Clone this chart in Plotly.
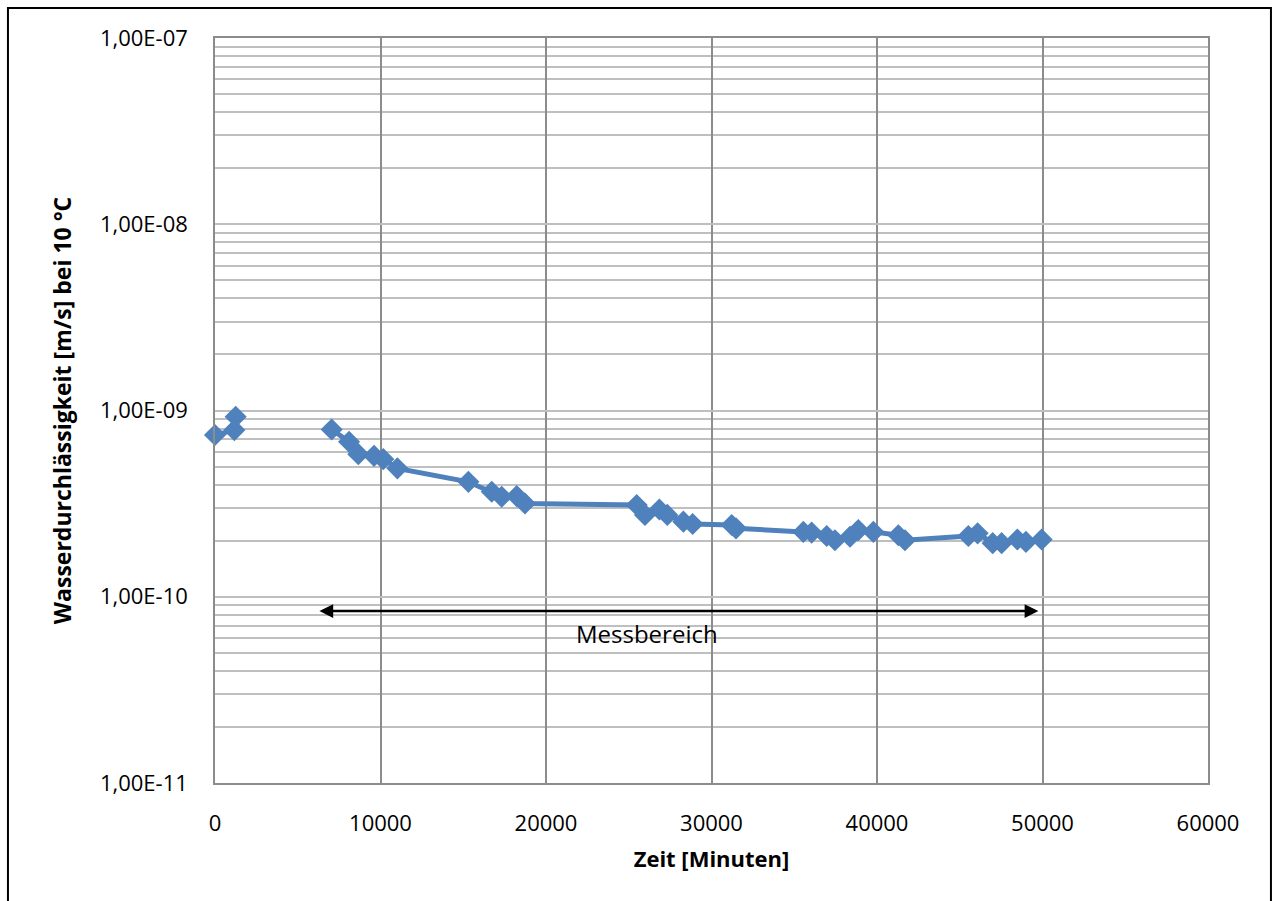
import math
import plotly.graph_objects as go

# Data (time in minutes, permeability in m/s)
zeit_minuten = [0, 1170, 1250, None,
                7050, 8100, 8660, 9610, 10170, 11020, 15310, 16720, 17320, 18230, 18730,
                25480, 25980, 26850, 27330, 28300, 28860, 31220, 31480,
                35550, 36050, 36960, 37460, 38370, 38870, 39780, 41290, 41690,
                45520, 46080, 46990, 47530, 48480, 49000, 49950]
durchlaessigkeit = [7.38e-10, 7.85e-10, 9.25e-10, None,
                    7.91e-10, 6.79e-10, 5.83e-10, 5.71e-10, 5.48e-10, 4.89e-10, 4.14e-10, 3.66e-10, 3.44e-10, 3.47e-10, 3.17e-10,
                    3.11e-10, 2.75e-10, 2.94e-10, 2.75e-10, 2.53e-10, 2.46e-10, 2.43e-10, 2.33e-10,
                    2.23e-10, 2.21e-10, 2.12e-10, 2.01e-10, 2.10e-10, 2.28e-10, 2.23e-10, 2.14e-10, 2.01e-10,
                    2.12e-10, 2.19e-10, 1.94e-10, 1.94e-10, 2.03e-10, 1.97e-10, 2.03e-10]

y_tick_vals = [1e-11, 1e-10, 1e-9, 1e-8, 1e-7]
y_tick_text = ["1,00E-11", "1,00E-10", "1,00E-09", "1,00E-08", "1,00E-07"]
x_tick_vals = [0, 10000, 20000, 30000, 40000, 50000, 60000]
x_tick_text = ["0", "10000", "20000", "30000", "40000", "50000", "60000"]

messbereich_start = 6220
messbereich_end = 49750
messbereich_y = 8.38e-11
messbereich_label = "Messbereich"
messbereich_label_x = 26100
messbereich_label_y = 6.38e-11

FONT = "Open Sans"

fig = go.Figure()
fig.add_trace(go.Scatter(
    x=zeit_minuten, y=durchlaessigkeit,
    mode="lines+markers",
    connectgaps=False,
    cliponaxis=False,
    line=dict(color="#4F81BD", width=5),
    marker=dict(symbol="diamond", size=17, color="#4F81BD"),
    showlegend=False,
))

fig.add_annotation(
    x=messbereich_end, y=math.log10(messbereich_y),
    ax=messbereich_start, ay=math.log10(messbereich_y),
    xref="x", yref="y", axref="x", ayref="y",
    text="", showarrow=True, arrowside="end+start",
    arrowhead=2, arrowsize=1.1, arrowwidth=2.5, arrowcolor="black",
)
fig.add_annotation(
    x=messbereich_label_x, y=math.log10(messbereich_label_y),
    xref="x", yref="y", text=messbereich_label, showarrow=False,
    font=dict(family=FONT, size=24, color="black"),
)

# outer chart frame
fig.add_shape(type="rect", xref="paper", yref="paper",
              x0=-0.2085, x1=1.0634, y0=-0.17, y1=1.0403,
              line=dict(color="black", width=2), layer="below")

fig.update_layout(
    width=1274, height=901,
    margin=dict(l=215, r=66, t=38, b=118),
    paper_bgcolor="white", plot_bgcolor="white",
    font=dict(family=FONT, size=22, color="black"),
)
fig.update_xaxes(
    range=[0, 60000], tickvals=x_tick_vals, ticktext=x_tick_text,
    showgrid=True, gridcolor="#8C8C8C", gridwidth=1.5,
    showline=True, linecolor="#8C8C8C", linewidth=1.5, mirror=True,
    ticks="", ticklabelstandoff=20, zeroline=False,
    tickfont=dict(family=FONT, size=22),
    title=dict(text="<b>Zeit [Minuten]</b>", font=dict(family=FONT, size=22), standoff=15),
)
fig.update_yaxes(
    type="log", range=[-11, -7],
    tickvals=y_tick_vals, ticktext=y_tick_text,
    showgrid=True, gridcolor="#BFBFBF", gridwidth=1.5,
    minor=dict(dtick="D1", showgrid=True, gridcolor="#BFBFBF", gridwidth=1.5, ticks=""),
    showline=True, linecolor="#8C8C8C", linewidth=1.5, mirror=True,
    ticks="", ticklabelstandoff=21, zeroline=False,
    tickfont=dict(family=FONT, size=22),
    title=dict(text="<b>Wasserdurchlässigkeit [m/s] bei 10 °C</b>", font=dict(family=FONT, size=23), standoff=22),
)

fig.write_html("out.html")
